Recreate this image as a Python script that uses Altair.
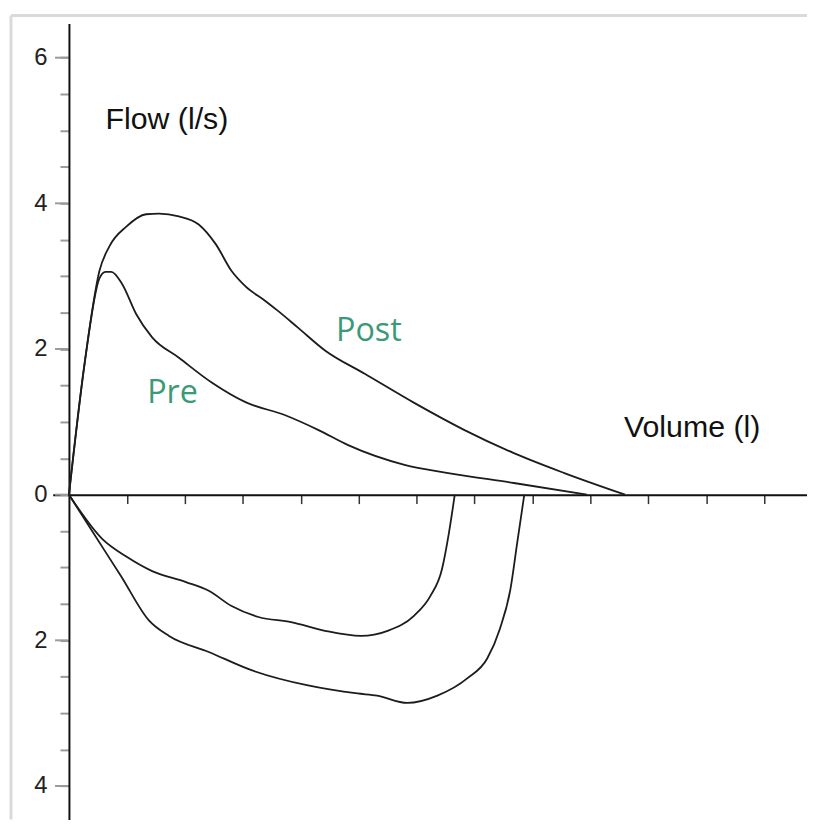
import altair as alt
import pandas as pd

# ---- data (volume in litres, flow in l/s) ----
post_exp_vol = [0.0, 0.135, 0.263, 0.349, 0.495, 0.666, 0.778, 0.949, 1.12, 1.267, 1.404, 1.524, 1.695, 1.807, 1.979, 2.21, 2.553, 2.98, 3.41, 3.84, 4.27, 4.80]
post_exp_flow = [0.0, 1.80, 3.07, 3.41, 3.68, 3.85, 3.86, 3.82, 3.71, 3.44, 3.07, 2.86, 2.66, 2.52, 2.29, 1.98, 1.66, 1.26, 0.89, 0.57, 0.30, 0.0]

pre_exp_vol = [0.0, 0.135, 0.263, 0.315, 0.366, 0.46, 0.58, 0.718, 0.949, 1.232, 1.524, 1.867, 2.15, 2.41, 2.896, 3.26, 3.84, 4.47]
pre_exp_flow = [0.0, 1.80, 2.97, 3.06, 3.06, 2.89, 2.48, 2.16, 1.88, 1.54, 1.27, 1.09, 0.89, 0.68, 0.41, 0.30, 0.16, 0.0]

pre_insp_vol = [0.0, 0.289, 0.495, 0.718, 1.01, 1.207, 1.404, 1.636, 1.918, 2.21, 2.52, 2.75, 2.98, 3.12, 3.22, 3.28, 3.33]
pre_insp_flow = [0.0, -0.61, -0.85, -1.05, -1.20, -1.32, -1.53, -1.68, -1.75, -1.87, -1.94, -1.87, -1.66, -1.39, -1.02, -0.52, 0.0]

post_insp_vol = [0.0, 0.20, 0.45, 0.692, 0.864, 1.207, 1.575, 2.064, 2.49, 2.66, 2.92, 3.18, 3.44, 3.61, 3.72, 3.81, 3.87, 3.93]
post_insp_flow = [0.0, -0.50, -1.12, -1.73, -1.94, -2.16, -2.41, -2.62, -2.73, -2.76, -2.86, -2.76, -2.52, -2.25, -1.84, -1.30, -0.65, 0.0]

x_ticks = [0.5, 1.0, 1.5, 2.0, 2.5, 3.0, 3.5, 4.0, 4.5, 5.0, 5.5, 6.0]
y_ticks = [-4.0, -3.5, -3.0, -2.5, -2.0, -1.5, -1.0, -0.5, 0.0, 0.5, 1.0, 1.5, 2.0, 2.5, 3.0, 3.5, 4.0, 4.5, 5.0, 5.5, 6.0]
y_major = [-4.0, -2.0, 0.0, 2.0, 4.0, 6.0]

title_text = ["Flow (l/s)", "Volume (l)"]
title_x = [0.315, 4.79]
title_y = [5.02, 0.79]

series_text = ["Post", "Pre"]
series_x = [2.305, 0.675]
series_y = [2.11, 1.255]

# ---- layout ----
X_MIN, X_MAX = -0.14, 6.37
Y_MIN, Y_MAX = -4.46, 6.47
PX_PER_L = 116.6
PX_PER_FLOW = 73.28
W = round((X_MAX - X_MIN) * PX_PER_L)
H = round((Y_MAX - Y_MIN) * PX_PER_FLOW)
PAD_L, PAD_T = 45, 13

rows = []
for name, vs, fs in [("post_exp", post_exp_vol, post_exp_flow),
                     ("pre_exp", pre_exp_vol, pre_exp_flow),
                     ("pre_insp", pre_insp_vol, pre_insp_flow),
                     ("post_insp", post_insp_vol, post_insp_flow)]:
    for i, (v, f) in enumerate(zip(vs, fs)):
        rows.append({"curve": name, "vol": v, "flow": f, "idx": i})
df = pd.DataFrame(rows)

x_off = -(0 - X_MIN) / (X_MAX - X_MIN) * W
y_off = -(0 - Y_MIN) / (Y_MAX - Y_MIN) * H

xscale = alt.Scale(domain=[X_MIN, X_MAX], nice=False, zero=False)
yscale = alt.Scale(domain=[Y_MIN, Y_MAX], nice=False, zero=False)

xaxis = alt.Axis(values=x_ticks, labels=False, title=None, grid=False,
                 domainColor="#111", domainWidth=2, tickColor="#333",
                 tickWidth=1.5, tickSize=9, offset=y_off, orient="bottom")
yaxis = alt.Axis(values=y_ticks, title=None, grid=False, orient="left",
                 domainColor="#111", domainWidth=2, tickColor="#9a9a9a",
                 tickWidth=2, tickSize=9,
                 labelExpr="datum.value % 2 === 0 ? format(abs(datum.value), 'd') : ''",
                 labelFont="Liberation Sans", labelFontSize=24, labelColor="#222",
                 labelPadding=13, offset=x_off)

X = lambda f: alt.X(f, scale=xscale, axis=xaxis)
Y = lambda f: alt.Y(f, scale=yscale, axis=yaxis)

lines = alt.Chart(df).mark_line(color="#1c1c1c", strokeWidth=1.8, interpolate="monotone").encode(
    x=X("vol:Q"), y=Y("flow:Q"), detail="curve:N", order="idx:Q",
)

major = alt.Chart(pd.DataFrame({"v": y_major, "z": [0.0] * len(y_major)})).mark_tick(
    orient="horizontal", size=13, thickness=2, xOffset=-7.5, color="#9a9a9a", opacity=1
).encode(x=X("z:Q"), y=Y("v:Q"))

titles = alt.Chart(pd.DataFrame({"t": title_text, "x": title_x, "y": title_y})).mark_text(
    font="Liberation Sans", fontSize=30.5, color="#111", align="left", baseline="alphabetic"
).encode(x=X("x:Q"), y=Y("y:Q"), text="t:N")

series = alt.Chart(pd.DataFrame({"t": series_text, "x": series_x, "y": series_y})).mark_text(
    font="Open Sans", fontSize=32.5, color="#3a9a76", align="left", baseline="alphabetic"
).encode(x=X("x:Q"), y=Y("y:Q"), text="t:N")

frame_top = alt.Chart(pd.DataFrame({"a": [0]})).mark_rule(color="#dcd8de", strokeWidth=3).encode(
    x=alt.value(-42), x2=alt.value(W), y=alt.value(-8))
frame_left = alt.Chart(pd.DataFrame({"a": [0]})).mark_rule(color="#dcd8de", strokeWidth=3).encode(
    x=alt.value(-42), y=alt.value(-8), y2=alt.value(H))

chart = alt.layer(frame_top, frame_left, major, lines, titles, series).properties(
    width=W, height=H,
    background="white",
    autosize=alt.AutoSizeParams(type="none"),
    padding={"left": PAD_L, "top": PAD_T, "right": 0, "bottom": 0},
).configure_view(strokeWidth=0, strokeOpacity=0).configure_axis(
    labelFont="Liberation Sans", labelFontSize=24
)

chart.save("out.html", embed_options={"renderer": "svg", "actions": False})
